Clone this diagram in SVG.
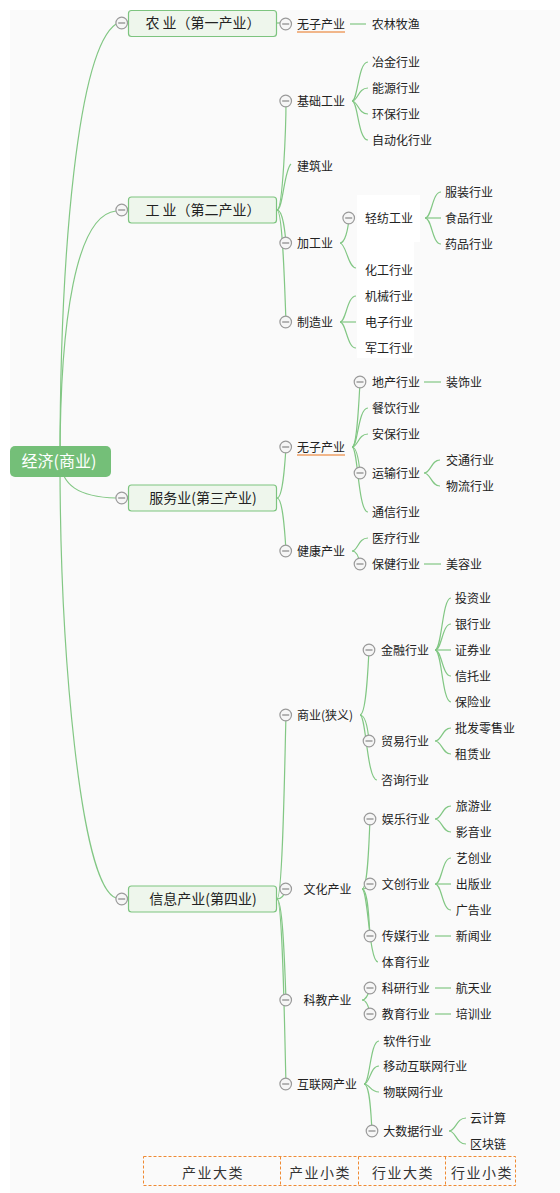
<svg xmlns="http://www.w3.org/2000/svg" xmlns:xlink="http://www.w3.org/1999/xlink" width="560" height="1193" viewBox="0 0 560 1193">
<style>
.ln{fill:none;stroke:#82c784;stroke-width:1.2}
.t{font-family:"Noto Sans CJK SC","Microsoft YaHei",sans-serif;font-size:12px;fill:#222}
.b{font-family:"Noto Sans CJK SC","Microsoft YaHei",sans-serif;font-size:14px;fill:#222;text-anchor:middle}
.box{fill:#eef6ec;stroke:#7dc47f;stroke-width:1.2}
.lg{font-family:"Noto Sans CJK SC","Microsoft YaHei",sans-serif;font-size:14px;fill:#333;text-anchor:middle;letter-spacing:1.5px}
.dash{fill:none;stroke:#ef8a33;stroke-width:1;stroke-dasharray:3 2}
</style>
<defs>
<g id="col"><circle r="5.8" fill="#f6f6f6" stroke="#9a9a9a" stroke-width="1.2"/><line x1="-3.5" y1="0" x2="3.5" y2="0" stroke="#888" stroke-width="1.2"/></g>
</defs>
<rect x="10" y="10" width="550" height="1183" fill="#fafafa"/>
<rect x="357" y="195" width="63" height="47" fill="#ffffff"/>
<rect x="357" y="242" width="57" height="116" fill="#ffffff"/>

<g id="connectors">
<path class="ln" d="M60 461 C60 250 78 50 116 24"/>
<path class="ln" d="M60 461 C60 320 76 215 116 211"/>
<path class="ln" d="M60 461 C62 485 78 497 116 498"/>
<path class="ln" d="M60 461 C60 650 80 885 116 898"/>
<path class="ln" d="M277 23 L286 23"/>
<path class="ln" d="M350 24 L366 24"/>
<path class="ln" d="M277 210 C283 210 286 125 286 101"/>
<path class="ln" d="M277 210 C283 210 284 170 291 164"/>
<path class="ln" d="M277 210 C283 210 285 232 286 243"/>
<path class="ln" d="M277 210 C283 210 285 300 286 322"/>
<path class="ln" d="M352 101 C358 101 358 62 368 62"/>
<path class="ln" d="M352 101 C358 101 358 88 368 88"/>
<path class="ln" d="M352 101 C358 101 358 114 368 114"/>
<path class="ln" d="M352 101 C358 101 358 140 368 140"/>
<path class="ln" d="M340 243 C345 243 348 230 349 218"/>
<path class="ln" d="M340 243 C346 243 348 268 356 268"/>
<path class="ln" d="M425 218 C432 218 432 192 441 192"/>
<path class="ln" d="M425 218 L441 218"/>
<path class="ln" d="M425 218 C432 218 432 244 441 244"/>
<path class="ln" d="M340 322 C346 322 347 296 356 296"/>
<path class="ln" d="M340 322 L356 322"/>
<path class="ln" d="M340 322 C346 322 347 348 356 348"/>
<path class="ln" d="M277 498 C283 498 285 462 286 447"/>
<path class="ln" d="M277 498 C283 498 285 535 286 551"/>
<path class="ln" d="M352 447 C357 447 359 400 360 382"/>
<path class="ln" d="M352 447 C358 447 358 408 368 408"/>
<path class="ln" d="M352 447 C358 447 358 434 368 434"/>
<path class="ln" d="M352 447 C357 447 359 462 360 473"/>
<path class="ln" d="M352 447 C358 447 358 512 368 512"/>
<path class="ln" d="M424 382 L441 382"/>
<path class="ln" d="M424 473 C431 473 431 460 440 460"/>
<path class="ln" d="M424 473 C431 473 431 486 440 486"/>
<path class="ln" d="M352 551 C358 551 358 538 368 538"/>
<path class="ln" d="M352 551 C357 551 359 558 360 564"/>
<path class="ln" d="M424 564 L441 564"/>
<path class="ln" d="M277 899 C283 899 285 745 286 715"/>
<path class="ln" d="M277 899 C283 899 285 893 286 889"/>
<path class="ln" d="M277 899 C283 899 285 975 286 1000"/>
<path class="ln" d="M277 899 C283 899 285 1055 286 1084"/>
<path class="ln" d="M360 715 C366 715 368 670 369 650"/>
<path class="ln" d="M360 715 C366 715 368 730 369 741"/>
<path class="ln" d="M360 715 C366 715 367 780 377 780"/>
<path class="ln" d="M435 650 C442 650 442 598 451 598"/>
<path class="ln" d="M435 650 C442 650 442 624 451 624"/>
<path class="ln" d="M435 650 L451 650"/>
<path class="ln" d="M435 650 C442 650 442 676 451 676"/>
<path class="ln" d="M435 650 C442 650 442 702 451 702"/>
<path class="ln" d="M435 741 C442 741 442 728 451 728"/>
<path class="ln" d="M435 741 C442 741 442 754 451 754"/>
<path class="ln" d="M362 889 C368 889 369 840 370 819"/>
<path class="ln" d="M362 889 C367 889 369 886 370 884"/>
<path class="ln" d="M362 889 C368 889 369 920 370 936"/>
<path class="ln" d="M362 889 C368 889 369 962 378 962"/>
<path class="ln" d="M435 819 C442 819 442 806 451 806"/>
<path class="ln" d="M435 819 C442 819 442 832 451 832"/>
<path class="ln" d="M435 884 C442 884 442 858 451 858"/>
<path class="ln" d="M435 884 L451 884"/>
<path class="ln" d="M435 884 C442 884 442 910 451 910"/>
<path class="ln" d="M435 936 L451 936"/>
<path class="ln" d="M362 1000 C367 1000 369 992 370 988"/>
<path class="ln" d="M362 1000 C367 1000 369 1008 370 1014"/>
<path class="ln" d="M435 988 L451 988"/>
<path class="ln" d="M435 1014 L451 1014"/>
<path class="ln" d="M364 1084 C370 1084 370 1041 379 1041"/>
<path class="ln" d="M364 1084 C370 1084 370 1066 379 1066"/>
<path class="ln" d="M364 1084 C370 1084 370 1092 379 1092"/>
<path class="ln" d="M364 1084 C370 1084 371 1115 372 1131"/>
<path class="ln" d="M449 1131 C456 1131 456 1118 466 1118"/>
<path class="ln" d="M449 1131 C456 1131 456 1144 466 1144"/>
</g>

<g id="root"><rect x="10" y="446" width="101" height="31" rx="5" fill="#74bf78"/><text x="59" y="467" font-family="Noto Sans CJK SC, sans-serif" font-size="16" fill="#fff" text-anchor="middle">经济(商业)</text></g>

<g id="n-agri"><use xlink:href="#col" x="121.7" y="23"/><rect class="box" x="128.5" y="10.5" width="148" height="26" rx="3"/><text class="b" x="203" y="28">农 业（第一产业）</text></g>
<g id="n-ind"><use xlink:href="#col" x="121.7" y="210"/><rect class="box" x="128.5" y="197" width="148" height="26" rx="3"/><text class="b" x="203" y="215">工 业（第二产业）</text></g>
<g id="n-serv"><use xlink:href="#col" x="121.7" y="498"/><rect class="box" x="128.5" y="485" width="148" height="26" rx="3"/><text class="b" x="203" y="503">服务业(第三产业)</text></g>
<g id="n-info"><use xlink:href="#col" x="121.7" y="899"/><rect class="box" x="128.5" y="886" width="148" height="26" rx="3"/><text class="b" x="203" y="904">信息产业(第四业)</text></g>

<g id="n-a1"><use xlink:href="#col" x="285.7" y="24"/><text class="t" x="297" y="28.5">无子产业</text><line x1="297" y1="32" x2="345" y2="32" stroke="#e8731a" stroke-width="1.2"/></g>
<g id="n-a2"><text class="t" x="371.7" y="28.5">农林牧渔</text></g>

<g id="n-i1"><use xlink:href="#col" x="285.7" y="101"/><text class="t" x="297" y="105.5">基础工业</text></g>
<g id="n-i11"><text class="t" x="372" y="66.5">冶金行业</text></g>
<g id="n-i12"><text class="t" x="372" y="92.5">能源行业</text></g>
<g id="n-i13"><text class="t" x="372" y="118.5">环保行业</text></g>
<g id="n-i14"><text class="t" x="372" y="144.5">自动化行业</text></g>
<g id="n-i2"><text class="t" x="297" y="170.5">建筑业</text></g>
<g id="n-i3"><use xlink:href="#col" x="285.7" y="243"/><text class="t" x="297" y="247.5">加工业</text></g>
<g id="n-i31"><use xlink:href="#col" x="348.7" y="218"/><text class="t" x="365" y="222.5">轻纺工业</text></g>
<g id="n-i311"><text class="t" x="445" y="196.5">服装行业</text></g>
<g id="n-i312"><text class="t" x="445" y="222.5">食品行业</text></g>
<g id="n-i313"><text class="t" x="445" y="248.5">药品行业</text></g>
<g id="n-i32"><text class="t" x="365" y="274.5">化工行业</text></g>
<g id="n-i4"><use xlink:href="#col" x="285.7" y="322"/><text class="t" x="297" y="326.5">制造业</text></g>
<g id="n-i41"><text class="t" x="365" y="300.5">机械行业</text></g>
<g id="n-i42"><text class="t" x="365" y="326.5">电子行业</text></g>
<g id="n-i43"><text class="t" x="365" y="352.5">军工行业</text></g>

<g id="n-s1"><use xlink:href="#col" x="285.7" y="447"/><text class="t" x="297" y="451.5">无子产业</text><line x1="297" y1="455" x2="345" y2="455" stroke="#e8731a" stroke-width="1"/></g>
<g id="n-s11"><use xlink:href="#col" x="360" y="382"/><text class="t" x="372" y="386.5">地产行业</text></g>
<g id="n-s111"><text class="t" x="446" y="386.5">装饰业</text></g>
<g id="n-s12"><text class="t" x="372" y="412.5">餐饮行业</text></g>
<g id="n-s13"><text class="t" x="372" y="438.5">安保行业</text></g>
<g id="n-s14"><use xlink:href="#col" x="360" y="473"/><text class="t" x="372" y="477.5">运输行业</text></g>
<g id="n-s141"><text class="t" x="446" y="464.5">交通行业</text></g>
<g id="n-s142"><text class="t" x="446" y="490.5">物流行业</text></g>
<g id="n-s15"><text class="t" x="372" y="516.5">通信行业</text></g>
<g id="n-s2"><use xlink:href="#col" x="285.7" y="551"/><text class="t" x="297" y="555.5">健康产业</text></g>
<g id="n-s21"><text class="t" x="372" y="542.5">医疗行业</text></g>
<g id="n-s22"><use xlink:href="#col" x="360" y="564"/><text class="t" x="372" y="568.5">保健行业</text></g>
<g id="n-s221"><text class="t" x="446" y="568.5">美容业</text></g>

<g id="n-f1"><use xlink:href="#col" x="285.7" y="715"/><text class="t" x="297" y="719.5">商业(狭义)</text></g>
<g id="n-f11"><use xlink:href="#col" x="369" y="650"/><text class="t" x="381" y="654.5">金融行业</text></g>
<g id="n-f111"><text class="t" x="455" y="602.5">投资业</text></g>
<g id="n-f112"><text class="t" x="455" y="628.5">银行业</text></g>
<g id="n-f113"><text class="t" x="455" y="654.5">证券业</text></g>
<g id="n-f114"><text class="t" x="455" y="680.5">信托业</text></g>
<g id="n-f115"><text class="t" x="455" y="706.5">保险业</text></g>
<g id="n-f12"><use xlink:href="#col" x="369" y="741"/><text class="t" x="381" y="745.5">贸易行业</text></g>
<g id="n-f121"><text class="t" x="455" y="732.5">批发零售业</text></g>
<g id="n-f122"><text class="t" x="455" y="758.5">租赁业</text></g>
<g id="n-f13"><text class="t" x="381" y="784.5">咨询行业</text></g>

<g id="n-f2"><use xlink:href="#col" x="285.7" y="889"/><text class="t" x="303.5" y="893.5">文化产业</text></g>
<g id="n-f21"><use xlink:href="#col" x="370" y="819"/><text class="t" x="381.7" y="823.5">娱乐行业</text></g>
<g id="n-f211"><text class="t" x="455.7" y="810.5">旅游业</text></g>
<g id="n-f212"><text class="t" x="455.7" y="836.5">影音业</text></g>
<g id="n-f22"><use xlink:href="#col" x="370" y="884"/><text class="t" x="381.7" y="888.5">文创行业</text></g>
<g id="n-f221"><text class="t" x="455.7" y="862.5">艺创业</text></g>
<g id="n-f222"><text class="t" x="455.7" y="888.5">出版业</text></g>
<g id="n-f223"><text class="t" x="455.7" y="914.5">广告业</text></g>
<g id="n-f23"><use xlink:href="#col" x="370" y="936"/><text class="t" x="381.7" y="940.5">传媒行业</text></g>
<g id="n-f231"><text class="t" x="455.7" y="940.5">新闻业</text></g>
<g id="n-f24"><text class="t" x="381.7" y="966.5">体育行业</text></g>

<g id="n-f3"><use xlink:href="#col" x="285.7" y="1000"/><text class="t" x="303.5" y="1004.5">科教产业</text></g>
<g id="n-f31"><use xlink:href="#col" x="370" y="988"/><text class="t" x="381.7" y="992.5">科研行业</text></g>
<g id="n-f311"><text class="t" x="455.7" y="992.5">航天业</text></g>
<g id="n-f32"><use xlink:href="#col" x="370" y="1014"/><text class="t" x="381.7" y="1018.5">教育行业</text></g>
<g id="n-f321"><text class="t" x="455.7" y="1018.5">培训业</text></g>

<g id="n-f4"><use xlink:href="#col" x="285.7" y="1084"/><text class="t" x="297" y="1088.5">互联网产业</text></g>
<g id="n-f41"><text class="t" x="383.3" y="1045.5">软件行业</text></g>
<g id="n-f42"><text class="t" x="383.3" y="1070.5">移动互联网行业</text></g>
<g id="n-f43"><text class="t" x="383.3" y="1096.5">物联网行业</text></g>
<g id="n-f44"><use xlink:href="#col" x="372" y="1131"/><text class="t" x="383.3" y="1135.5">大数据行业</text></g>
<g id="n-f441"><text class="t" x="470" y="1122.5">云计算</text></g>
<g id="n-f442"><text class="t" x="470" y="1148.5">区块链</text></g>

<g id="legend">
<rect class="dash" x="143.5" y="1156.5" width="372" height="29"/>
<line class="dash" x1="280.5" y1="1156.5" x2="280.5" y2="1185.5"/>
<line class="dash" x1="358.5" y1="1156.5" x2="358.5" y2="1185.5"/>
<line class="dash" x1="445.5" y1="1156.5" x2="445.5" y2="1185.5"/>
<text class="lg" x="213" y="1178">产业大类</text>
<text class="lg" x="320" y="1178">产业小类</text>
<text class="lg" x="403" y="1178">行业大类</text>
<text class="lg" x="482" y="1178">行业小类</text>
</g>
</svg>
